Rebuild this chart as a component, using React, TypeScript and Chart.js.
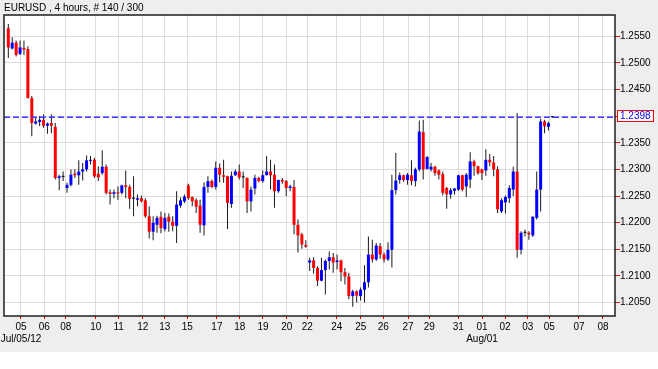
import React, { useEffect, useRef } from 'react';
import { Chart, registerables } from 'chart.js';

Chart.register(...registerables);

const TITLE = 'EURUSD , 4 hours, # 140 / 300';
const bidPrice = 1.2398;

const opens: number[] = [
  1.2565, 1.2527, 1.2538, 1.2517, 1.2528, 1.2526, 1.2434, 1.2386, 1.2389, 1.2393,
  1.2382, 1.2387, 1.2380, 1.2284, 1.2286, 1.2265, 1.2271, 1.2292, 1.2289, 1.2296,
  1.2300, 1.2316, 1.2318, 1.2292, 1.2293, 1.2305, 1.2257, 1.2254, 1.2257, 1.2256,
  1.2270, 1.2267, 1.2245, 1.2243, 1.2246, 1.2242, 1.2212, 1.2183, 1.2196, 1.2211,
  1.2188, 1.2211, 1.2202, 1.2194, 1.2232, 1.2240, 1.2270, 1.2248, 1.2242, 1.2232,
  1.2195, 1.2267, 1.2278, 1.2267, 1.2303, 1.2289, 1.2287, 1.2235, 1.2289, 1.2296,
  1.2285, 1.2284, 1.2240, 1.2264, 1.2284, 1.2278, 1.2289, 1.2296, 1.2290, 1.2259,
  1.2280, 1.2278, 1.2265, 1.2267, 1.2196, 1.2178, 1.2158, 1.2125, 1.2129, 1.2115,
  1.2091, 1.2111, 1.2128, 1.2135, 1.2126, 1.2129, 1.2107, 1.2099, 1.2062, 1.2071,
  1.2062, 1.2074, 1.2088, 1.2140, 1.2131, 1.2156, 1.2140, 1.2131, 1.2149, 1.2261,
  1.2280, 1.2289, 1.2280, 1.2289, 1.2278, 1.2300, 1.2370, 1.2301, 1.2300, 1.2305,
  1.2298, 1.2291, 1.2265, 1.2253, 1.2260, 1.2262, 1.2289, 1.2268, 1.2281, 1.2315,
  1.2306, 1.2300, 1.2298, 1.2318, 1.2313, 1.2300, 1.2221, 1.2238, 1.2246, 1.2262,
  1.2296, 1.2149, 1.2181, 1.2181, 1.2176, 1.2209, 1.2262, 1.2390, 1.2380, 1.2398,
];
const highs: number[] = [
  1.2573, 1.2548, 1.2542, 1.2542, 1.2542, 1.2531, 1.2438, 1.2398, 1.2400, 1.2403,
  1.2388, 1.2403, 1.2387, 1.2290, 1.2296, 1.2275, 1.2300, 1.2300, 1.2317, 1.2312,
  1.2326, 1.2325, 1.2322, 1.2306, 1.2336, 1.2309, 1.2262, 1.2262, 1.2268, 1.2271,
  1.2298, 1.2271, 1.2287, 1.2253, 1.2251, 1.2246, 1.2231, 1.2212, 1.2213, 1.2221,
  1.2218, 1.2217, 1.2212, 1.2259, 1.2247, 1.2253, 1.2273, 1.2249, 1.2246, 1.2243,
  1.2276, 1.2287, 1.2281, 1.2315, 1.2311, 1.2318, 1.2288, 1.2296, 1.2300, 1.2309,
  1.2296, 1.2285, 1.2268, 1.2290, 1.2286, 1.2298, 1.2325, 1.2318, 1.2309, 1.2281,
  1.2284, 1.2280, 1.2271, 1.2280, 1.2206, 1.2181, 1.2167, 1.2134, 1.2135, 1.2118,
  1.2134, 1.2131, 1.2146, 1.2143, 1.2140, 1.2131, 1.2115, 1.2106, 1.2074, 1.2073,
  1.2078, 1.2120, 1.2174, 1.2168, 1.2162, 1.2162, 1.2144, 1.2163, 1.2290, 1.2331,
  1.2294, 1.2290, 1.2293, 1.2317, 1.2303, 1.2392, 1.2393, 1.2325, 1.2312, 1.2307,
  1.2300, 1.2296, 1.2267, 1.2265, 1.2265, 1.2290, 1.2290, 1.2293, 1.2332, 1.2318,
  1.2307, 1.2301, 1.2338, 1.2329, 1.2325, 1.2306, 1.2246, 1.2251, 1.2270, 1.2305,
  1.2406, 1.2184, 1.2187, 1.2184, 1.2212, 1.2296, 1.2395, 1.2393, 1.2390, 1.2400,
];
const lows: number[] = [
  1.2509, 1.2525, 1.2512, 1.2515, 1.2515, 1.2433, 1.2362, 1.2384, 1.2381, 1.2378,
  1.2367, 1.2368, 1.2281, 1.2261, 1.2278, 1.2256, 1.2268, 1.2284, 1.2271, 1.2279,
  1.2296, 1.2309, 1.2284, 1.2278, 1.2290, 1.2253, 1.2234, 1.2246, 1.2243, 1.2253,
  1.2246, 1.2226, 1.2212, 1.2231, 1.2238, 1.2209, 1.2170, 1.2167, 1.2181, 1.2180,
  1.2184, 1.2183, 1.2184, 1.2162, 1.2228, 1.2237, 1.2243, 1.2231, 1.2218, 1.2181,
  1.2176, 1.2256, 1.2265, 1.2262, 1.2276, 1.2275, 1.2188, 1.2228, 1.2288, 1.2281,
  1.2265, 1.2218, 1.2221, 1.2253, 1.2276, 1.2275, 1.2289, 1.2262, 1.2228, 1.2256,
  1.2273, 1.2250, 1.2259, 1.2178, 1.2144, 1.2151, 1.2153, 1.2109, 1.2104, 1.2081,
  1.2090, 1.2065, 1.2112, 1.2106, 1.2112, 1.2090, 1.2084, 1.2056, 1.2042, 1.2050,
  1.2054, 1.2050, 1.2078, 1.2125, 1.2128, 1.2132, 1.2125, 1.2128, 1.2116, 1.2253,
  1.2273, 1.2277, 1.2271, 1.2270, 1.2268, 1.2296, 1.2281, 1.2300, 1.2296, 1.2288,
  1.2281, 1.2251, 1.2226, 1.2245, 1.2253, 1.2260, 1.2259, 1.2248, 1.2265, 1.2288,
  1.2290, 1.2280, 1.2288, 1.2306, 1.2287, 1.2218, 1.2218, 1.2217, 1.2237, 1.2250,
  1.2134, 1.2140, 1.2174, 1.2168, 1.2173, 1.2206, 1.2221, 1.2368, 1.2373, 1.2397,
];
const closes: number[] = [
  1.2529, 1.2538, 1.2515, 1.2529, 1.2525, 1.2434, 1.2387, 1.2390, 1.2393, 1.2382,
  1.2386, 1.2382, 1.2284, 1.2287, 1.2286, 1.2271, 1.2290, 1.2289, 1.2296, 1.2300,
  1.2317, 1.2318, 1.2287, 1.2285, 1.2305, 1.2256, 1.2254, 1.2257, 1.2255, 1.2270,
  1.2267, 1.2245, 1.2245, 1.2246, 1.2240, 1.2212, 1.2183, 1.2200, 1.2209, 1.2190,
  1.2209, 1.2202, 1.2194, 1.2234, 1.2242, 1.2249, 1.2246, 1.2240, 1.2230, 1.2196,
  1.2267, 1.2278, 1.2267, 1.2303, 1.2290, 1.2286, 1.2237, 1.2288, 1.2296, 1.2285,
  1.2285, 1.2240, 1.2262, 1.2284, 1.2278, 1.2289, 1.2296, 1.2289, 1.2259, 1.2280,
  1.2277, 1.2265, 1.2268, 1.2196, 1.2176, 1.2159, 1.2155, 1.2129, 1.2115, 1.2091,
  1.2111, 1.2128, 1.2135, 1.2125, 1.2129, 1.2107, 1.2099, 1.2062, 1.2071, 1.2063,
  1.2074, 1.2088, 1.2140, 1.2131, 1.2157, 1.2140, 1.2131, 1.2149, 1.2261, 1.2279,
  1.2289, 1.2280, 1.2290, 1.2278, 1.2300, 1.2371, 1.2300, 1.2323, 1.2305, 1.2293,
  1.2290, 1.2256, 1.2253, 1.2261, 1.2264, 1.2289, 1.2262, 1.2290, 1.2315, 1.2306,
  1.2293, 1.2293, 1.2318, 1.2313, 1.2300, 1.2225, 1.2242, 1.2248, 1.2265, 1.2296,
  1.2149, 1.2181, 1.2181, 1.2178, 1.2211, 1.2262, 1.2390, 1.2381, 1.2387, 1.2398,
];

// x-axis date labels, positioned in bar-index units
const xTickBars: number[] = [
  3.24, 9.2, 14.67, 22.33, 28.2, 34.34, 39.96, 45.73, 53.3, 59.12, 65.07, 71.13, 76.39,
  83.9, 90.03, 95.81, 102.12, 107.56, 114.97, 121.03, 126.9, 132.7, 138.22, 145.8, 151.93,
];
const xTickDays: string[] = [
  '05', '06', '08', '10', '11', '12', '13', '15', '17', '18', '19', '20', '22',
  '24', '25', '26', '27', '29', '31', '01', '02', '03', '05', '07', '08',
];
const xTickSubLabels: string[] = [
  'Jul/05/12', '', '', '', '', '', '', '', '', '', '', '', '',
  '', '', '', '', '', '', 'Aug/01', '', '', '', '', '',
];
const yTickValues: number[] = [
  1.205, 1.21, 1.215, 1.22, 1.225, 1.23, 1.235, 1.24, 1.245, 1.25, 1.255,
];

const X_MIN = -1.1;
const X_MAX = 155.0;
const Y_MIN = 1.20247;
const Y_MAX = 1.25899;

const FONT = 'Arial, "Liberation Sans", sans-serif';

export default function App() {
  const ref = useRef<HTMLCanvasElement>(null);

  useEffect(() => {
    const canvas = ref.current;
    if (!canvas) return;
    Chart.defaults.font.family = FONT;
    Chart.defaults.font.size = 10;
    Chart.defaults.color = '#000';

    const idx = opens.map((_, i) => i);
    const bodyColors = idx.map((i) =>
      closes[i] > opens[i] ? '#0000ff' : closes[i] < opens[i] ? '#ff0000' : '#000000'
    );

    const framePlugin = {
      id: 'mtFrame',
      beforeDraw(chart: any) {
        const { ctx, chartArea: a, width, height } = chart;
        ctx.save();
        ctx.fillStyle = '#ffffff';
        ctx.fillRect(0, 0, width, height);
        ctx.fillStyle = '#eeeeee';
        ctx.fillRect(0, 0, width, 352);
        ctx.fillStyle = '#ffffff';
        ctx.fillRect(a.left, a.top, a.right - a.left, a.bottom - a.top);
        ctx.restore();
      },
      afterDraw(chart: any) {
        const { ctx, chartArea: a, scales } = chart;
        ctx.save();
        ctx.strokeStyle = '#1e1e1e';
        ctx.lineWidth = 1.5;
        ctx.strokeRect(a.left, a.top, a.right - a.left, a.bottom - a.top);
        const y = scales.y.getPixelForValue(bidPrice);
        const bx = Math.round(a.right) + 2.5;
        const by = Math.round(y) - 6.5;
        ctx.fillStyle = '#ffffff';
        ctx.fillRect(bx, by, 36, 11);
        ctx.strokeStyle = '#ff0000';
        ctx.lineWidth = 1;
        ctx.strokeRect(bx, by, 36, 11);
        ctx.fillStyle = '#0000ff';
        ctx.font = '10px ' + FONT;
        ctx.textBaseline = 'middle';
        ctx.textAlign = 'left';
        ctx.fillText(bidPrice.toFixed(4), bx + 2.5, Math.round(y) - 0.5);
        ctx.restore();
      },
    };

    const chart = new Chart(canvas, {
      type: 'bar',
      data: {
        datasets: [
          {
            type: 'line',
            data: [
              { x: X_MIN, y: bidPrice },
              { x: X_MAX, y: bidPrice },
            ],
            borderColor: '#3a3aff',
            borderWidth: 1.5,
            borderDash: [6, 3],
            pointRadius: 0,
            order: 0,
          } as any,
          {
            type: 'bar',
            data: idx.map((i) => ({ x: i, y: [opens[i], closes[i]] })),
            backgroundColor: bodyColors,
            barThickness: 3,
            minBarLength: 1,
            grouped: false,
            inflateAmount: 0,
            borderWidth: 0,
            order: 1,
          } as any,
          {
            type: 'bar',
            data: idx.map((i) => ({ x: i, y: [lows[i], highs[i]] })),
            backgroundColor: '#1a1a1a',
            barThickness: 1,
            grouped: false,
            inflateAmount: 0,
            borderWidth: 0,
            order: 2,
          } as any,
        ],
      },
      options: {
        responsive: false,
        animation: false,
        devicePixelRatio: 1,
        events: [],
        layout: { padding: { left: 4, right: 0, top: 0, bottom: 0 } },
        plugins: {
          legend: { display: false },
          tooltip: { enabled: false },
          title: {
            display: true,
            text: TITLE,
            align: 'start',
            color: '#000',
            font: { size: 10, weight: 'normal', family: FONT, lineHeight: 1.2 },
            padding: { top: 2, bottom: 1 },
          },
        },
        scales: {
          x: {
            type: 'linear',
            min: X_MIN,
            max: X_MAX,
            offset: false,
            bounds: 'data',
            grid: {
              color: '#dcdcdc',
              lineWidth: 1,
              offset: false,
              drawTicks: true,
              tickLength: 3,
              tickColor: '#ff0000',
              tickWidth: 1,
            },
            border: { display: false },
            ticks: {
              autoSkip: false,
              maxRotation: 0,
              minRotation: 0,
              padding: 1.5,
              color: '#000',
              font: { size: 10, lineHeight: 1.25 },
              callback: (_v: any, i: number) =>
                xTickSubLabels[i] ? [xTickDays[i], xTickSubLabels[i]] : xTickDays[i],
            },
            afterBuildTicks: (s: any) => {
              s.ticks = xTickBars.map((v) => ({ value: v }));
            },
            afterFit: (s: any) => {
              s.height = 53;
              s.paddingLeft = 0;
              s.paddingRight = 0;
            },
          } as any,
          y: {
            type: 'linear',
            position: 'right',
            min: Y_MIN,
            max: Y_MAX,
            beginAtZero: false,
            bounds: 'data',
            grid: {
              color: '#dcdcdc',
              lineWidth: 1,
              drawTicks: true,
              tickLength: 5,
              tickColor: '#ff0000',
              tickWidth: 1,
            },
            border: { display: false },
            ticks: {
              padding: 0,
              color: '#000',
              font: { size: 10 },
              callback: (v: any) =>
                Math.abs(Number(v) - bidPrice) < 0.0004 ? '' : Number(v).toFixed(4),
            },
            afterBuildTicks: (s: any) => {
              s.ticks = yTickValues.map((v) => ({ value: v }));
            },
            afterFit: (s: any) => {
              s.width = 43;
              s.paddingTop = 0;
              s.paddingBottom = 0;
            },
          } as any,
        },
      } as any,
      plugins: [framePlugin as any],
    });

    return () => chart.destroy();
  }, []);

  return (
    <div style={{ position: 'fixed', left: 0, top: 0, width: 658, height: 369 }}>
      <canvas ref={ref} width={658} height={369} style={{ display: 'block', width: 658, height: 369 }} />
    </div>
  );
}
